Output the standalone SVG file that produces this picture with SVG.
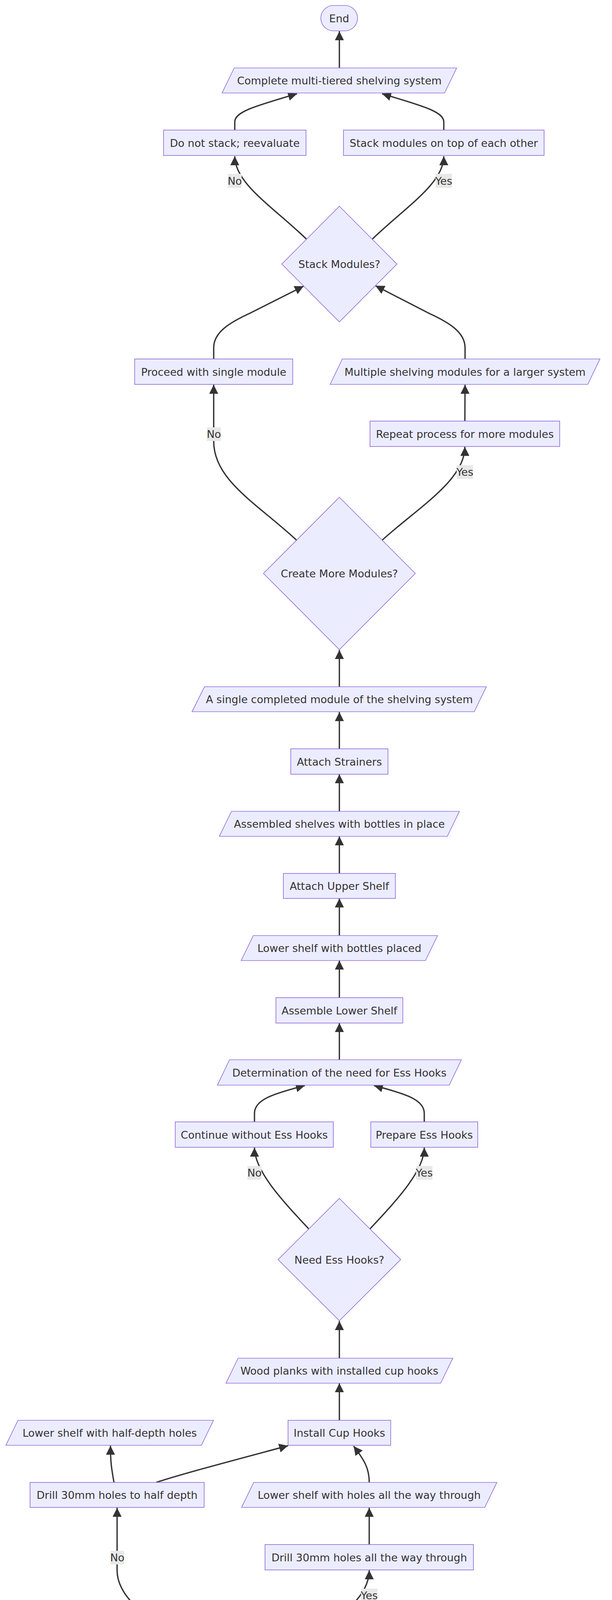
<svg xmlns="http://www.w3.org/2000/svg" width="1568" height="5430" viewBox="0 0 1568 5430">
<style>
.node rect,.node polygon{fill:#ECECFF;stroke:#9370DB;stroke-width:1.7}
.edge{fill:none;stroke:#333333;stroke-width:3.4}
text{font-family:"DejaVu Sans",Verdana,"Liberation Sans",sans-serif;font-size:27px;fill:#333333;text-anchor:middle}
.lbl rect{fill:#e8e8e8}
</style>
<defs>
<marker id="arrow" viewBox="0 0 10 10" refX="10" refY="5" markerWidth="23" markerHeight="23" markerUnits="userSpaceOnUse" orient="auto">
<path d="M0,0 L10,5 L0,10 z" fill="#333333"/>
</marker>
</defs>
<rect width="1568" height="5430" fill="#ffffff"/>
<g id="connectors">
<path class="edge" marker-end="url(#arrow)" d="M 869.5 174 L 869.5 80"/>
<path class="edge" marker-end="url(#arrow)" d="M 601.5 333 L 601.5 312 C 601.5 285 660 270 761 240"/>
<path class="edge" marker-end="url(#arrow)" d="M 1137 333 L 1137 312 C 1137 285 1078 270 979 240"/>
<path class="edge" marker-end="url(#arrow)" d="M 785 612 C 700 530 601.5 470 601.5 400"/>
<path class="edge" marker-end="url(#arrow)" d="M 954 612 C 1039 530 1137 470 1137 400"/>
<path class="edge" marker-end="url(#arrow)" d="M 547.5 919 L 547.5 890 C 547.5 850 590 825 640 802 L 778 732.5"/>
<path class="edge" marker-end="url(#arrow)" d="M 1191.5 919 L 1191.5 890 C 1191.5 850 1149 825 1099 802 L 962 731.5"/>
<path class="edge" marker-end="url(#arrow)" d="M 1191 1078 L 1191.5 985"/>
<path class="edge" marker-end="url(#arrow)" d="M 760 1383 C 660 1290 547.5 1230 547.5 1130 L 547.5 985"/>
<path class="edge" marker-end="url(#arrow)" d="M 979 1383 C 1070 1300 1191 1230 1191 1144"/>
<path class="edge" marker-end="url(#arrow)" d="M 869.5 1758 L 869.5 1664"/>
<path class="edge" marker-end="url(#arrow)" d="M 869.5 1917 L 869.5 1823"/>
<path class="edge" marker-end="url(#arrow)" d="M 869.5 2077 L 869.5 1982"/>
<path class="edge" marker-end="url(#arrow)" d="M 869.5 2236 L 869.5 2141"/>
<path class="edge" marker-end="url(#arrow)" d="M 869.5 2395 L 869.5 2300"/>
<path class="edge" marker-end="url(#arrow)" d="M 869.5 2554 L 869.5 2459"/>
<path class="edge" marker-end="url(#arrow)" d="M 869.5 2713 L 869.5 2619"/>
<path class="edge" marker-end="url(#arrow)" d="M 652 2872 L 652 2850 C 652 2815 700 2800 781 2779"/>
<path class="edge" marker-end="url(#arrow)" d="M 1087 2872 L 1087 2850 C 1087 2815 1039 2800 958 2779"/>
<path class="edge" marker-end="url(#arrow)" d="M 791 3146 C 730 3080 652 3000 652 2938"/>
<path class="edge" marker-end="url(#arrow)" d="M 948 3146 C 1009 3080 1087 3000 1087 2938"/>
<path class="edge" marker-end="url(#arrow)" d="M 869.5 3477 L 869.5 3382"/>
<path class="edge" marker-end="url(#arrow)" d="M 869.5 3636 L 869.5 3541"/>
<path class="edge" marker-end="url(#arrow)" d="M 292 3795 C 286 3760 283 3745 283 3701"/>
<path class="edge" marker-end="url(#arrow)" d="M 400 3795 C 470 3772 600 3738 738 3701"/>
<path class="edge" marker-end="url(#arrow)" d="M 946 3795 C 946 3760 935 3740 906 3702"/>
<path class="edge" marker-end="url(#arrow)" d="M 946 3954 L 946 3860"/>
<path class="edge" marker-end="url(#arrow)" d="M 510 4262 C 427 4160 300 4110 300 4020 L 300 3860"/>
<path class="edge" marker-end="url(#arrow)" d="M 737 4262 C 820 4160 946 4110 946 4020"/>
<path class="edge" marker-end="url(#arrow)" d="M 623 4658 L 623 4564"/>
<path class="edge" marker-end="url(#arrow)" d="M 623 4817 L 623 4723"/>
<path class="edge" marker-end="url(#arrow)" d="M 623 4977 L 623 4882"/>
<path class="edge" marker-end="url(#arrow)" d="M 623 5136 L 623 5042"/>
<path class="edge" marker-end="url(#arrow)" d="M 623 5295 L 623 5201"/>
</g>
<g id="edge-labels">
<g class="lbl"><rect x="584" y="445" width="35" height="36"/><text x="601.5" y="472.5">No</text></g>
<g class="lbl"><rect x="1116" y="445" width="42" height="36"/><text x="1137" y="472.5">Yes</text></g>
<g class="lbl"><rect x="530" y="1094" width="36" height="35"/><text x="548" y="1121">No</text></g>
<g class="lbl"><rect x="1170" y="1191" width="42" height="35"/><text x="1191" y="1218">Yes</text></g>
<g class="lbl"><rect x="634" y="2985" width="36" height="35"/><text x="652" y="3012">No</text></g>
<g class="lbl"><rect x="1066" y="2985" width="42" height="35"/><text x="1087" y="3012">Yes</text></g>
<g class="lbl"><rect x="283" y="3970" width="35" height="35"/><text x="300.5" y="3997">No</text></g>
<g class="lbl"><rect x="925" y="4067" width="42" height="35"/><text x="946" y="4094">Yes</text></g>
</g>
<g id="end" class="node"><rect x="822" y="14" width="94" height="65" rx="32.5" ry="32.5"/><text x="869" y="56.5">End</text></g>
<g id="complete_system" class="node"><polygon points="600,174 1170,174 1139,238 569,238"/><text x="869.5" y="216">Complete multi-tiered shelving system</text></g>
<g id="do_not_stack" class="node"><rect x="419" y="333" width="365" height="65"/><text x="601.5" y="375.5">Do not stack; reevaluate</text></g>
<g id="stack_on_top" class="node"><rect x="880" y="333" width="514" height="65"/><text x="1137" y="375.5">Stack modules on top of each other</text></g>
<g id="stack_modules_q" class="node"><polygon points="869.5,528 1017,676 869.5,824 722,676"/><text x="869.5" y="686">Stack Modules?</text></g>
<g id="proceed_single" class="node"><rect x="345" y="919" width="405" height="65"/><text x="547.5" y="961.5">Proceed with single module</text></g>
<g id="multiple_modules" class="node"><polygon points="877,919 1537,919 1506,984 846,984"/><text x="1191.5" y="961.5">Multiple shelving modules for a larger system</text></g>
<g id="repeat_process" class="node"><rect x="948" y="1078" width="486" height="65"/><text x="1191" y="1120.5">Repeat process for more modules</text></g>
<g id="create_more_q" class="node"><polygon points="869.5,1273 1064,1468 869.5,1663 675,1468"/><text x="869.5" y="1478">Create More Modules?</text></g>
<g id="single_module" class="node"><polygon points="524,1758 1246,1758 1215,1822 492,1822"/><text x="869.5" y="1800">A single completed module of the shelving system</text></g>
<g id="attach_strainers" class="node"><rect x="745" y="1917" width="249" height="65"/><text x="869.5" y="1959.5">Attach Strainers</text></g>
<g id="assembled_shelves" class="node"><polygon points="593,2077 1177,2077 1146,2141 562,2141"/><text x="869.5" y="2119">Assembled shelves with bottles in place</text></g>
<g id="attach_upper" class="node"><rect x="726" y="2236" width="287" height="64"/><text x="869.5" y="2278">Attach Upper Shelf</text></g>
<g id="lower_bottles" class="node"><polygon points="649,2395 1121,2395 1090,2459 618,2459"/><text x="869.5" y="2437">Lower shelf with bottles placed</text></g>
<g id="assemble_lower" class="node"><rect x="707" y="2554" width="325" height="65"/><text x="869.5" y="2596.5">Assemble Lower Shelf</text></g>
<g id="determination" class="node"><polygon points="588,2713 1182,2713 1151,2778 557,2778"/><text x="869.5" y="2755.5">Determination of the need for Ess Hooks</text></g>
<g id="continue_without" class="node"><rect x="449" y="2872" width="405" height="65"/><text x="651.5" y="2914.5">Continue without Ess Hooks</text></g>
<g id="prepare_ess" class="node"><rect x="950" y="2872" width="274" height="65"/><text x="1087" y="2914.5">Prepare Ess Hooks</text></g>
<g id="need_ess_q" class="node"><polygon points="869.5,3068 1026.5,3224.5 869.5,3381 712.5,3224.5"/><text x="869.5" y="3234.5">Need Ess Hooks?</text></g>
<g id="wood_cup_hooks" class="node"><polygon points="610,3477 1160,3477 1129,3541 579,3541"/><text x="869.5" y="3519">Wood planks with installed cup hooks</text></g>
<g id="install_cup" class="node"><rect x="738" y="3636" width="263" height="64"/><text x="869.5" y="3678">Install Cup Hooks</text></g>
<g id="lower_half" class="node"><polygon points="46,3636 547,3636 516,3700 15,3700"/><text x="281" y="3678">Lower shelf with half-depth holes</text></g>
<g id="drill_half" class="node"><rect x="77" y="3795" width="446" height="64"/><text x="300" y="3837">Drill 30mm holes to half depth</text></g>
<g id="lower_through" class="node"><polygon points="650,3795 1273,3795 1242,3859 619,3859"/><text x="946" y="3837">Lower shelf with holes all the way through</text></g>
<g id="drill_through" class="node"><rect x="679" y="3954" width="534" height="65"/><text x="946" y="3996.5">Drill 30mm holes all the way through</text></g>
<g id="drill_holes_q" class="node"><polygon points="623,4149 830,4356 623,4563 416,4356"/><text x="623" y="4366">Drill Lower Shelf Holes?</text></g>
<g id="wood_prepared" class="node"><polygon points="307,4658 970,4658 939,4723 276,4723"/><text x="623" y="4700.5">Wood planks prepared with appropriate holes</text></g>
<g id="prepare_wood" class="node"><rect x="514" y="4817" width="218" height="65"/><text x="623" y="4859.5">Prepare Wood</text></g>
<g id="clean_bottles" class="node"><polygon points="356,4977 921,4977 890,5042 325,5042"/><text x="623" y="5019.5">Clean bottles ready for use in shelving</text></g>
<g id="wash_bottles" class="node"><rect x="521" y="5136" width="204" height="64"/><text x="623" y="5178">Wash Bottles</text></g>
<g id="start" class="node"><rect x="567" y="5295.5" width="112" height="64.5" rx="32" ry="32"/><text x="623" y="5337.5">Start</text></g>
</svg>
